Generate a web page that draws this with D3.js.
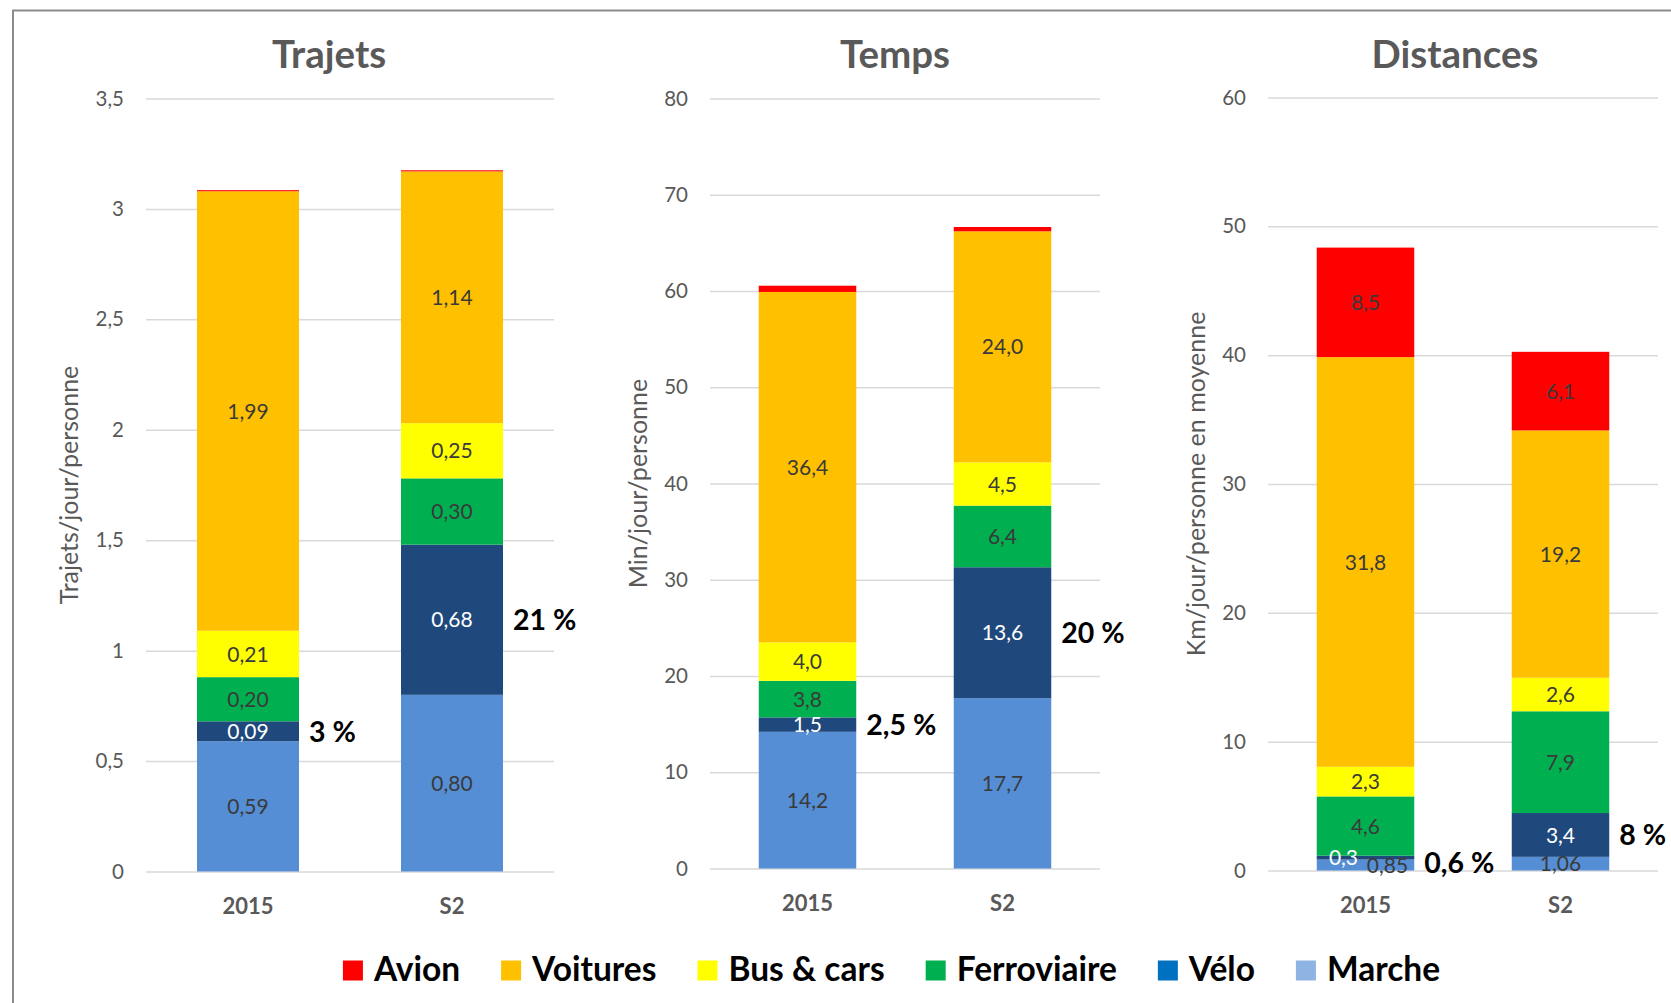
<!DOCTYPE html>
<html><head><meta charset="utf-8">
<script src="https://cdn.jsdelivr.net/npm/d3@7/dist/d3.min.js"></script>
<style>
body{margin:0;background:#fff;}
svg{display:block;font-family:Lato,"Open Sans",sans-serif;}
</style>
</head><body>
<svg id="c" width="1671" height="1003"></svg>
<script>
// ---------- DATA ----------
const modes = ["Marche", "Vélo", "Ferroviaire", "Bus & cars", "Voitures", "Avion"];
const legendOrder = ["Avion", "Voitures", "Bus & cars", "Ferroviaire", "Vélo", "Marche"];
const scenarios = ["2015", "S2"];

const trajets2015 = [0.59, 0.09, 0.20, 0.21, 1.99, 0.005];
const trajetsS2   = [0.80, 0.68, 0.30, 0.25, 1.14, 0.005];
const temps2015   = [14.2, 1.5, 3.8, 4.0, 36.4, 0.65];
const tempsS2     = [17.7, 13.6, 6.4, 4.5, 24.0, 0.45];
const dist2015    = [0.85, 0.3, 4.6, 2.3, 31.8, 8.5];
const distS2      = [1.06, 3.4, 7.9, 2.6, 19.2, 6.1];

// decimals shown in the data labels (null = no label)
const trajetsDecimals = [2, 2, 2, 2, 2, null];
const tempsDecimals   = [1, 1, 1, 1, 1, null];
const distDecimals    = [2, 1, 1, 1, 1, 1];

// share of cycling annotations
const trajetsPct = ["3 %", "21 %"];
const tempsPct   = ["2,5 %", "20 %"];
const distPct    = ["0,6 %", "8 %"];

const trajetsTicks = [0, 0.5, 1, 1.5, 2, 2.5, 3, 3.5];
const tempsTicks   = [0, 10, 20, 30, 40, 50, 60, 70, 80];
const distTicks    = [0, 10, 20, 30, 40, 50, 60];

// ---------- STYLE ----------
const barColors = {
  "Marche": "#558ED5", "Vélo": "#1F497D", "Ferroviaire": "#00B050",
  "Bus & cars": "#FFFF00", "Voitures": "#FFC000", "Avion": "#FF0000"
};
const legendColors = {
  "Marche": "#8EB4E3", "Vélo": "#0070C0", "Ferroviaire": "#00B050",
  "Bus & cars": "#FFFF00", "Voitures": "#FFC000", "Avion": "#FF0000"
};
const labelColors = {"Vélo": "#FFFFFF"};
const fmt = (v, d) => d3.format("." + d + "f")(v).replace(".", ",");

const charts = [
  {title: "Trajets", titleX: 329, ylab: "Trajets/jour/personne", x0: 146, x1: 554, y0: 871.5, y1: 98.5,
   max: 3.5, ticks: trajetsTicks, series: [trajets2015, trajetsS2], dec: trajetsDecimals, pct: trajetsPct,
   labelShift: {}},
  {title: "Temps", titleX: 895, ylab: "Min/jour/personne", x0: 710, x1: 1100, y0: 868.5, y1: 98.5,
   max: 80, ticks: tempsTicks, series: [temps2015, tempsS2], dec: tempsDecimals, pct: tempsPct,
   labelShift: {}},
  {title: "Distances", titleX: 1455, ylab: "Km/jour/personne en moyenne", x0: 1268, x1: 1658, y0: 870.5, y1: 97.5,
   max: 60, ticks: distTicks, series: [dist2015, distS2], dec: distDecimals, pct: distPct,
   labelShift: {"2015|Vélo": -22, "2015|Marche": 22}, pctShift: {"2015": 5}}
];

const svg = d3.select("#c");

// frame
svg.append("rect").attr("x", 13).attr("y", 10.5).attr("width", 1700).attr("height", 1100)
  .attr("fill", "none").attr("stroke", "#8c8c8c").attr("stroke-width", 2);

charts.forEach(ch => {
  const g = svg.append("g");
  const y = d3.scaleLinear().domain([0, ch.max]).range([ch.y0, ch.y1]);
  const x = d3.scaleBand().domain(scenarios).range([ch.x0, ch.x1]).paddingInner(0.5).paddingOuter(0.25);

  // gridlines + tick labels
  const ya = g.append("g").attr("transform", `translate(${ch.x0},0)`)
    .call(d3.axisLeft(y).tickValues(ch.ticks).tickSizeInner(-(ch.x1 - ch.x0)).tickSizeOuter(0)
      .tickPadding(22).tickFormat(v => String(v).replace(".", ",")));
  ya.select(".domain").remove();
  ya.selectAll("line").attr("stroke", "#d9d9d9").attr("stroke-width", 1.5);
  ya.selectAll("text").attr("fill", "#595959").style("font-size", "20.5px").style("font-family", "Lato");

  // x labels
  const xa = g.append("g").attr("transform", `translate(0,${ch.y0})`)
    .call(d3.axisBottom(x).tickSize(0).tickPadding(27));
  xa.select(".domain").remove();
  xa.selectAll("text").attr("fill", "#595959").style("font-size", "22px").style("font-weight", "bold")
    .style("font-family", "Lato");

  // stacked bars
  const rows = scenarios.map((s, i) => {
    const r = {scenario: s};
    modes.forEach((m, j) => r[m] = ch.series[i][j]);
    return r;
  });
  const stacked = d3.stack().keys(modes)(rows);
  stacked.forEach(layer => {
    const m = layer.key;
    g.append("g").selectAll("rect").data(layer).join("rect")
      .attr("x", d => x(d.data.scenario))
      .attr("width", x.bandwidth())
      .attr("y", d => y(d[1]))
      .attr("height", d => y(d[0]) - y(d[1]))
      .attr("fill", barColors[m]);
  });
  // data labels
  stacked.forEach((layer, j) => {
    const m = layer.key;
    if (ch.dec[j] === null) return;
    g.append("g").selectAll("text").data(layer).join("text")
      .attr("x", d => x(d.data.scenario) + x.bandwidth() / 2 + (ch.labelShift[d.data.scenario + "|" + m] || 0))
      .attr("y", d => y((d[0] + d[1]) / 2))
      .attr("dy", "0.36em")
      .attr("text-anchor", "middle")
      .attr("fill", labelColors[m] || "#3a3a3a")
      .style("font-size", "21px")
      .text(d => fmt(d.data[m], ch.dec[j]));
  });
  // cycling share annotation
  const velo = stacked[modes.indexOf("Vélo")];
  g.append("g").selectAll("text").data(velo).join("text")
    .attr("x", d => x(d.data.scenario) + x.bandwidth() + 10)
    .attr("y", d => y((d[0] + d[1]) / 2) + ((ch.pctShift || {})[d.data.scenario] || 0))
    .attr("dy", "0.36em")
    .attr("fill", "#000")
    .style("font-size", "28.5px").style("font-weight", "bold")
    .text((d, i) => ch.pct[i]);

  // title
  g.append("text").attr("x", ch.titleX).attr("y", 68)
    .attr("text-anchor", "middle").attr("fill", "#595959")
    .style("font-size", "38.5px").style("font-weight", "bold").text(ch.title);

  // y label
  let maxW = 0;
  ya.selectAll("text").each(function() { maxW = Math.max(maxW, this.getComputedTextLength()); });
  const lx = ch.x0 - 22 - maxW - 26;
  const ly = (ch.y0 + ch.y1) / 2;
  g.append("text").attr("transform", `translate(${lx},${ly}) rotate(-90)`)
    .attr("text-anchor", "middle").attr("dy", "0.35em").attr("fill", "#595959")
    .style("font-size", "25px").text(ch.ylab);
});

// legend
const lg = svg.append("g");
const items = lg.selectAll("g").data(legendOrder).join("g");
items.append("rect").attr("width", 20).attr("height", 20).attr("y", 960.5)
  .attr("fill", d => legendColors[d]);
items.append("text").attr("x", 31).attr("y", 980.5).attr("fill", "#000")
  .style("font-size", "33.5px").style("font-weight", "bold").text(d => d);
let cx = 0;
const offs = [];
items.each(function(d) {
  const w = d3.select(this).select("text").node().getComputedTextLength();
  offs.push(cx);
  cx += 31 + w + 41;
});
const total = cx - 41;
const startX = 891.5 - total / 2;
items.attr("transform", (d, i) => `translate(${startX + offs[i]},0)`);
</script>
</body></html>
